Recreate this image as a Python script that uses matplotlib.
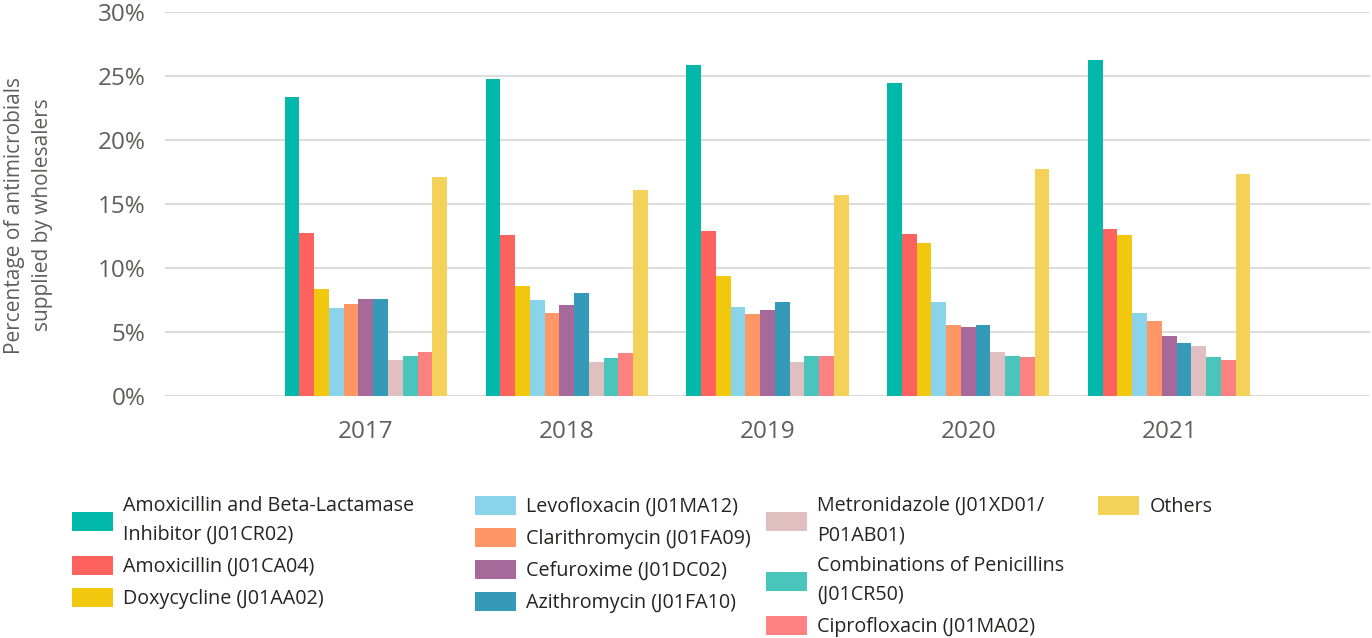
import matplotlib
matplotlib.use("Agg")
import matplotlib.pyplot as plt
from matplotlib.patches import Patch
import numpy as np

plt.rcParams['font.family'] = ['Open Sans', 'DejaVu Sans']

years = ["2017", "2018", "2019", "2020", "2021"]
series_names = [
    "Amoxicillin and Beta-Lactamase\nInhibitor (J01CR02)",
    "Amoxicillin (J01CA04)",
    "Doxycycline (J01AA02)",
    "Levofloxacin (J01MA12)",
    "Clarithromycin (J01FA09)",
    "Cefuroxime (J01DC02)",
    "Azithromycin (J01FA10)",
    "Metronidazole (J01XD01/\nP01AB01)",
    "Combinations of Penicillins\n(J01CR50)",
    "Ciprofloxacin (J01MA02)",
    "Others",
]
colors = ["#01B8AA", "#FD625E", "#F2C80F", "#8AD4EB", "#FE9666", "#A66999",
          "#3599B8", "#DFBFBF", "#4AC5BB", "#FB8281", "#F4D25A"]

amox_bli = [23.4, 24.8, 25.9, 24.45, 26.3]
amoxicillin = [12.75, 12.6, 12.95, 12.65, 13.05]
doxycycline = [8.4, 8.6, 9.4, 11.95, 12.6]
levofloxacin = [6.9, 7.55, 6.95, 7.35, 6.5]
clarithromycin = [7.25, 6.5, 6.45, 5.6, 5.9]
cefuroxime = [7.6, 7.15, 6.75, 5.45, 4.75]
azithromycin = [7.6, 8.05, 7.35, 5.55, 4.2]
metronidazole = [2.85, 2.65, 2.7, 3.5, 3.95]
combinations = [3.15, 3.0, 3.15, 3.15, 3.05]
ciprofloxacin = [3.5, 3.4, 3.15, 3.05, 2.85]
others = [17.1, 16.1, 15.7, 17.75, 17.35]

values = [amox_bli, amoxicillin, doxycycline, levofloxacin, clarithromycin,
          cefuroxime, azithromycin, metronidazole, combinations, ciprofloxacin, others]

fig = plt.figure(figsize=(13.72, 6.38), dpi=100)
ax = fig.add_axes([0.1203, 0.3788, 0.8782, 0.6019])

x = np.arange(len(years))
n = len(values)
w = 0.0735
for i, (vals, c) in enumerate(zip(values, colors)):
    ax.bar(x + (i - (n - 1) / 2) * w, vals, width=w, color=c, zorder=3,
           label=series_names[i])

ax.set_xlim(-1, 5)
ax.set_ylim(0, 30)
ax.set_yticks(range(0, 31, 5))
ax.set_yticklabels([f"{t}%" for t in range(0, 31, 5)])
ax.set_xticks(x)
ax.set_xticklabels(years)
ax.grid(axis='y', color='#dcdcdc', linewidth=1.5, zorder=0)
ax.set_axisbelow(True)
for s in ax.spines.values():
    s.set_visible(False)
ax.tick_params(axis='both', length=0, labelsize=17.5, colors='#605E5C')
ax.tick_params(axis='y', pad=14)
ax.tick_params(axis='x', pad=17)

fig.text(0.021, 0.663, "Percentage of antimicrobials\nsupplied by wholesalers",
         rotation=90, ha='center', va='center', fontsize=15, color='#605E5C',
         linespacing=1.45)

handles = [Patch(facecolor=c) for c in colors]
cols = [[0, 1, 2], [3, 4, 5, 6], [7, 8, 9], [10]]
xpos = [72, 475, 766, 1098]
for idx, xp in zip(cols, xpos):
    leg = fig.legend([handles[i] for i in idx], [series_names[i] for i in idx],
                     loc='upper left', bbox_to_anchor=(xp / 1372, 1 - 496 / 638),
                     frameon=False, fontsize=14.2, handlelength=2.1, handleheight=1.1,
                     handletextpad=0.5, labelspacing=0.55, borderpad=0,
                     borderaxespad=0, labelcolor='#252423')
    for t in leg.get_texts():
        t.set_linespacing(1.6)

fig.savefig("out.png", dpi=100)
